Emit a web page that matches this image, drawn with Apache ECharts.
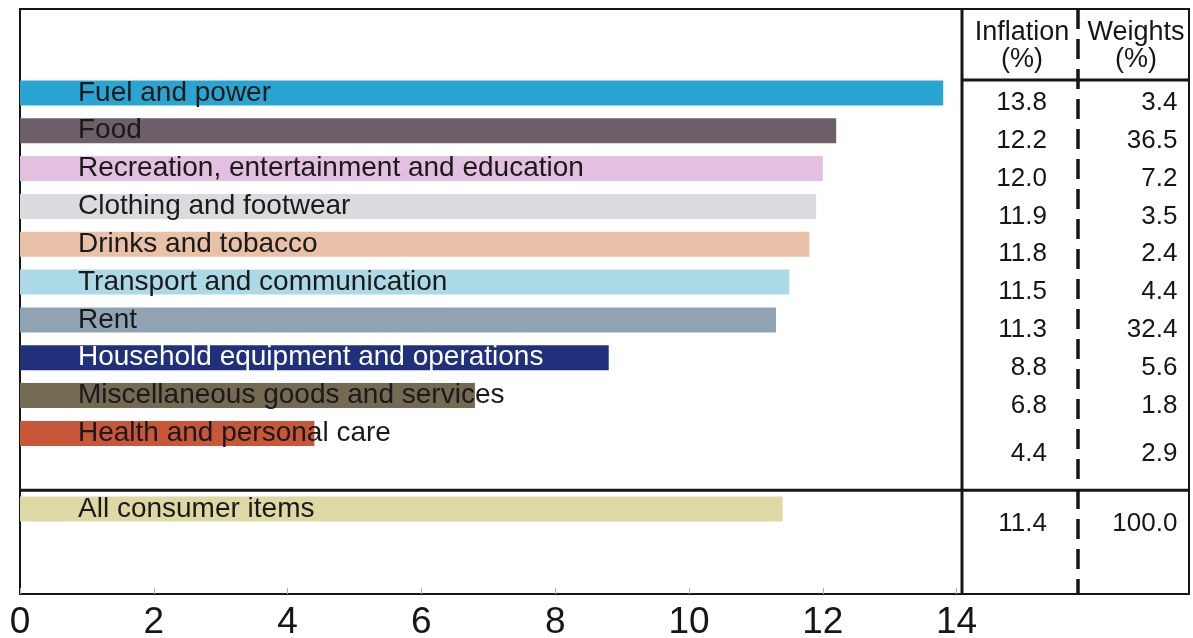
<!DOCTYPE html>
<html>
<head>
<meta charset="utf-8">
<script src="https://cdn.jsdelivr.net/npm/echarts@6/dist/echarts.min.js"></script>
<style>
  html, body { margin: 0; padding: 0; background: #ffffff; }
  #chart { width: 1193px; height: 638px; }
</style>
</head>
<body>
<div id="chart"></div>
<script>
// Consumer price inflation by expenditure group, with weights
const categories = [
  'Fuel and power',
  'Food',
  'Recreation, entertainment and education',
  'Clothing and footwear',
  'Drinks and tobacco',
  'Transport and communication',
  'Rent',
  'Household equipment and operations',
  'Miscellaneous goods and services',
  'Health and personal care',
  '',
  'All consumer items'
];
const inflation = [13.8, 12.2, 12.0, 11.9, 11.8, 11.5, 11.3, 8.8, 6.8, 4.4, null, 11.4];
const weights   = [3.4, 36.5, 7.2, 3.5, 2.4, 4.4, 32.4, 5.6, 1.8, 2.9, null, 100.0];
const barColors = ['#2aa5d2', '#6d5f6a', '#e3bfe0', '#dbdadf', '#e8c1a6', '#abdae6',
                   '#8fa3b2', '#20307a', '#746a54', '#c8573a', null, '#ddd8a4'];
const labelColors = ['#1a1a1a', '#1a1a1a', '#1a1a1a', '#1a1a1a', '#1a1a1a', '#1a1a1a',
                     '#1a1a1a', '#ffffff', '#1a1a1a', '#1a1a1a', null, '#1a1a1a'];
const xTicks = [0, 2, 4, 6, 8, 10, 12, 14];
const headerInflation = 'Inflation\n(%)';
const headerWeights = 'Weights\n(%)';

const FONT = 'Liberation Sans, Arial, Helvetica, sans-serif';
const INK = '#161616';
// value axis spans past 14 so the table columns sit on the same scale
const X_MAX = 1169 / 66.9;
const INF_COL = 15.35;   // right edge of inflation column
const WGT_COL = 17.30;   // right edge of weights column
// the last two rows of the table sit a little lower than their bars
const tableNudge = { 9: 20, 11: 15 };

const chart = echarts.init(document.getElementById('chart'));

const barData = inflation.map((v, i) => v == null ? '-' : {
  value: v,
  itemStyle: { color: barColors[i] },
  label: { color: labelColors[i] }
});

const tableData = () => {
  const out = [];
  inflation.forEach((v, i) => {
    if (v == null) return;
    out.push({ idx: i, label: { offset: [0, tableNudge[i] || 10] } });
  });
  return out;
};
const infData = tableData().map(d => Object.assign(d, { value: [INF_COL, d.idx] }));
const wgtData = tableData().map(d => Object.assign(d, { value: [WGT_COL, d.idx] }));

const tableLabel = (arr) => ({
  show: true,
  position: 'left',
  distance: 0,
  color: INK,
  fontFamily: FONT,
  fontSize: 26,
  formatter: p => arr[p.data.idx].toFixed(1)
});

chart.setOption({
  animation: false,
  backgroundColor: '#ffffff',
  grid: [
    { left: 20, right: 4, top: 9, bottom: 44, outerBoundsMode: 'none', show: true, borderColor: INK, borderWidth: 2, backgroundColor: 'transparent' },
    { left: 20, right: 4, top: 74, height: 454, outerBoundsMode: 'none' }
  ],
  xAxis: [
    {
      gridIndex: 0, type: 'value', min: 0, max: X_MAX,
      axisLine: { show: false },
      splitLine: { show: false },
      axisTick: { show: true, inside: true, length: 6, customValues: xTicks, lineStyle: { color: '#b0b0b0', width: 1 } },
      axisLabel: { customValues: xTicks, color: INK, fontFamily: FONT, fontSize: 37, margin: 10 }
    },
    {
      gridIndex: 1, type: 'value', min: 0, max: X_MAX, show: false
    }
  ],
  yAxis: [
    { gridIndex: 0, type: 'value', min: 0, max: 1, show: false },
    { gridIndex: 1, type: 'category', data: categories, inverse: true, show: false }
  ],
  series: [
    {
      type: 'bar',
      xAxisIndex: 1, yAxisIndex: 1,
      data: barData,
      barWidth: 25,
      label: {
        show: true,
        position: [58, '50%'],
        align: 'left',
        verticalAlign: 'middle',
        fontFamily: FONT,
        fontSize: 28,
        formatter: p => categories[p.dataIndex]
      }
    },
    {
      type: 'scatter', xAxisIndex: 1, yAxisIndex: 1,
      symbolSize: 0, itemStyle: { opacity: 1 },
      data: infData, label: tableLabel(inflation)
    },
    {
      type: 'scatter', xAxisIndex: 1, yAxisIndex: 1,
      symbolSize: 0, itemStyle: { opacity: 1 },
      data: wgtData, label: tableLabel(weights)
    }
  ]
});

// Table rules and headers
const rowPix = i => chart.convertToPixel({ yAxisIndex: 1 }, i);
const colX = 962;
const dashX = 1078;
const frameTop = 9, frameBottom = 594, frameLeft = 20, frameRight = 1189;
const headY = 80;
const sepY = (rowPix(10) + rowPix(11)) / 2;
const rule = (x1, y1, x2, y2, dash, w) => ({
  type: 'line',
  shape: { x1, y1, x2, y2 },
  style: { stroke: INK, lineWidth: w || 3, lineDash: dash || null },
  z: 50
});

chart.setOption({
  graphic: [
    rule(colX, frameTop, colX, frameBottom),
    rule(dashX, frameTop, dashX, frameBottom, [20, 10], 3.5),
    rule(colX, headY, frameRight, headY),
    rule(frameLeft, sepY, frameRight, sepY),
    {
      type: 'text', x: 1022, y: 19, z: 50,
      style: { text: headerInflation, fill: INK, font: '27px ' + FONT, align: 'center', verticalAlign: 'top', lineHeight: 27 }
    },
    {
      type: 'text', x: 1136, y: 19, z: 50,
      style: { text: headerWeights, fill: INK, font: '27px ' + FONT, align: 'center', verticalAlign: 'top', lineHeight: 27 }
    }
  ]
});
</script>
</body>
</html>
